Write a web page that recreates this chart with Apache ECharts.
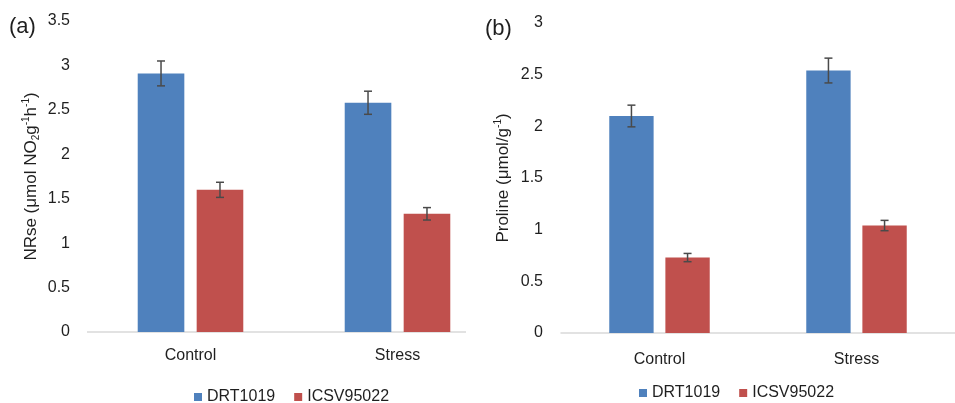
<!DOCTYPE html>
<html>
<head>
<meta charset="utf-8">
<script src="https://cdn.jsdelivr.net/npm/echarts@6/dist/echarts.min.js"></script>
<style>html,body{margin:0;padding:0;background:#fff}#c{width:955px;height:403px}</style>
</head>
<body>
<div id="c"></div>
<script>
// ---- data ----
const categories = ['Control', 'Stress'];
const seriesNames = ['DRT1019', 'ICSV95022'];
// Panel (a) NRse
const nrseDRT = [2.91, 2.58];
const nrseDRTErr = [0.14, 0.13];
const nrseICSV = [1.60, 1.33];
const nrseICSVErr = [0.085, 0.07];
// Panel (b) Proline
const proDRT = [2.10, 2.54];
const proDRTErr = [0.105, 0.12];
const proICSV = [0.73, 1.04];
const proICSVErr = [0.04, 0.05];
// ticks
const yTicksA = {min: 0, max: 3.5, interval: 0.5};
const yTicksB = {min: 0, max: 3, interval: 0.5};

// ---- style ----
const BLUE = '#4F81BD', RED = '#C0504D', ERR = '#4a4a4a', TXT = '#1f1f1f';
const CAT_GAP = 0.49, BAR_GAP = 0.265;
const FONT = 'Liberation Sans, Arial, sans-serif';
const gridA = {left: 87, width: 414, top: 21, bottom: 71};
const gridB = {left: 561, width: 405, top: 23, bottom: 70};

function errRender(sign) {
  return function (params, api) {
    const cat = api.value(0), v = api.value(1), e = api.value(2);
    const band = api.size([1, 0])[0];
    const w = band * (1 - CAT_GAP) / (2 + BAR_GAP);
    const dx = sign * w * (1 + BAR_GAP) / 2;
    const t = api.coord([cat, v + e]);
    const b = api.coord([cat, v - e]);
    const x = t[0] + dx, cw = 4;
    const st = {stroke: ERR, lineWidth: 1.5};
    return {type: 'group', children: [
      {type: 'line', shape: {x1: x, y1: t[1], x2: x, y2: b[1]}, style: st},
      {type: 'line', shape: {x1: x - cw, y1: t[1], x2: x + cw, y2: t[1]}, style: st},
      {type: 'line', shape: {x1: x - cw, y1: b[1], x2: x + cw, y2: b[1]}, style: st}
    ]};
  };
}
function errData(vals, errs) { return vals.map((v, i) => [i, v, errs[i]]); }

function xAxis(gi, showLine) {
  return {
    type: 'category', gridIndex: gi, data: categories,
    axisTick: {show: false},
    axisLine: {show: showLine, lineStyle: {color: '#D9D9D9', width: 1.5}},
    axisLabel: {color: TXT, fontSize: 16, fontFamily: FONT, margin: gi === 0 ? 16 : 19}
  };
}
function yAxis(gi, ticks, name, gap) {
  return {
    type: 'value', gridIndex: gi, min: ticks.min, max: ticks.max, interval: ticks.interval,
    splitLine: {show: false}, axisLine: {show: false}, axisTick: {show: false},
    axisLabel: {color: TXT, fontSize: 16, fontFamily: FONT, margin: gi === 0 ? 17 : 18},
    name: name, nameLocation: 'middle', nameGap: gap,
    nameTextStyle: {
      color: TXT, fontSize: 17, fontFamily: FONT,
      rich: {
        n: {fontSize: 17, fontFamily: FONT, color: TXT, lineHeight: 20},
        sup: {fontSize: 10, fontFamily: FONT, color: TXT, verticalAlign: 'top', lineHeight: 20},
        sub: {fontSize: 10, fontFamily: FONT, color: TXT, verticalAlign: 'bottom', lineHeight: 18}
      }
    }
  };
}
function bar(name, gi, vals, color) {
  return {
    name: name, type: 'bar', xAxisIndex: gi, yAxisIndex: gi, data: vals,
    barCategoryGap: (CAT_GAP * 100) + '%', barGap: (BAR_GAP * 100) + '%',
    itemStyle: {color: color}, silent: true
  };
}
function err(gi, vals, errs, sign) {
  return {
    name: 'err' + gi + sign, type: 'custom', xAxisIndex: gi, yAxisIndex: gi,
    data: errData(vals, errs), encode: {x: 0, y: 1}, renderItem: errRender(sign), z: 5, silent: true
  };
}

const chart = echarts.init(document.getElementById('c'), null, {renderer: 'canvas'});
const axisYA = 403 - gridA.bottom;
chart.setOption({
  animation: false,
  textStyle: {fontFamily: FONT},
  title: [
    {text: '(a)', left: 4, top: 11, textStyle: {fontSize: 22, fontWeight: 'normal', color: TXT, fontFamily: FONT}},
    {text: '(b)', left: 480, top: 13, textStyle: {fontSize: 22, fontWeight: 'normal', color: TXT, fontFamily: FONT}}
  ],
  grid: [
    {left: gridA.left, width: gridA.width, top: gridA.top, bottom: gridA.bottom},
    {left: gridB.left, width: gridB.width, top: gridB.top, bottom: gridB.bottom}
  ],
  legend: [
    {data: seriesNames, left: 189, top: 384, itemWidth: 8, itemHeight: 8, itemGap: 19, icon: 'rect',
     textStyle: {fontSize: 16, color: TXT, fontFamily: FONT}},
    {data: seriesNames, left: 634, top: 380, itemWidth: 8, itemHeight: 8, itemGap: 19, icon: 'rect',
     textStyle: {fontSize: 16, color: TXT, fontFamily: FONT}}
  ],
  xAxis: [xAxis(0, false), xAxis(1, true)],
  yAxis: [
    yAxis(0, yTicksA, '{n|NRse (μmol NO}{sub|2}{n|g}{sup|-1}{n|h}{sup|-1}{n|)}', 46),
    yAxis(1, yTicksB, '{n|Proline (μmol/g}{sup|-1}{n|)}', 48)
  ],
  graphic: [
    {type: 'line', shape: {x1: gridA.left, y1: axisYA, x2: 466, y2: axisYA},
     style: {stroke: '#D9D9D9', lineWidth: 1.5}, silent: true}
  ],
  series: [
    bar(seriesNames[0], 0, nrseDRT, BLUE),
    bar(seriesNames[1], 0, nrseICSV, RED),
    err(0, nrseDRT, nrseDRTErr, -1),
    err(0, nrseICSV, nrseICSVErr, 1),
    bar(seriesNames[0], 1, proDRT, BLUE),
    bar(seriesNames[1], 1, proICSV, RED),
    err(1, proDRT, proDRTErr, -1),
    err(1, proICSV, proICSVErr, 1)
  ]
});
</script>
</body>
</html>
